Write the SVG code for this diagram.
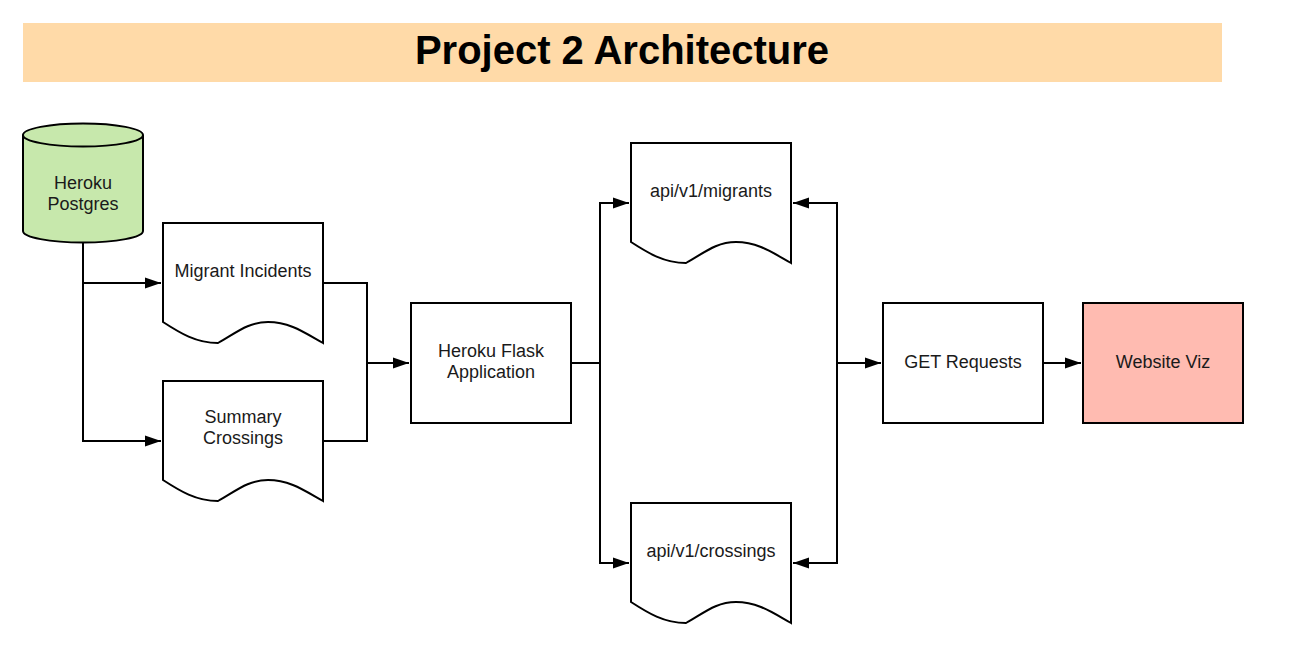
<svg xmlns="http://www.w3.org/2000/svg" width="1316" height="662" viewBox="0 0 1316 662">
<defs>
<style>
.shape{stroke:#000;stroke-width:2;}
.lbl{font-family:"Liberation Sans",Arial,sans-serif;font-size:18px;fill:#1a1a1a;text-anchor:middle;}
.conn{fill:none;stroke:#000;stroke-width:2;}
</style>
<marker id="arr" markerWidth="16" markerHeight="12" refX="16" refY="6" orient="auto" markerUnits="userSpaceOnUse">
<path d="M0,0.5 L16,6 L0,11.5 Z" fill="#000"/>
</marker>
</defs>
<rect width="1316" height="662" fill="#fff"/>
<g id="title">
<rect x="23" y="23" width="1199" height="59" fill="#FFDAA8"/>
<text x="622" y="64" font-family="'Liberation Sans',Arial,sans-serif" font-size="40" font-weight="bold" text-anchor="middle" fill="#000">Project 2 Architecture</text>
</g>
<g id="connectors">
<path class="conn" d="M83,243 V441 H161" marker-end="url(#arr)"/>
<path class="conn" d="M83,283 H161" marker-end="url(#arr)"/>
<path class="conn" d="M323,283 H367 V363"/>
<path class="conn" d="M323,441 H367 V363 H409" marker-end="url(#arr)"/>
<path class="conn" d="M571,363 H600 V203 H629" marker-end="url(#arr)"/>
<path class="conn" d="M600,363 V563 H629" marker-end="url(#arr)"/>
<path class="conn" d="M837,363 V203 H793" marker-end="url(#arr)"/>
<path class="conn" d="M837,363 V563 H793" marker-end="url(#arr)"/>
<path class="conn" d="M837,363 H881" marker-end="url(#arr)"/>
<path class="conn" d="M1043,363 H1081" marker-end="url(#arr)"/>
</g>
<g id="heroku-postgres">
<path class="shape" fill="#C7E8AC" d="M23,135 V231 A60,11.5 0 0 0 143,231 V135 A60,11.5 0 0 0 23,135 Z"/>
<path class="shape" fill="none" d="M23,135 A60,11.5 0 0 0 143,135"/>
<text class="lbl" x="83" y="189">Heroku</text>
<text class="lbl" x="83" y="210">Postgres</text>
</g>
<g id="migrant-incidents">
<path class="shape" fill="#fff" d="M163,223 H323 V343 C305,333 290,322 268,322 C248,322 236,333 218,343 C196,343 180,333 163,322 Z"/>
<text class="lbl" x="243" y="277">Migrant Incidents</text>
</g>
<g id="summary-crossings">
<path class="shape" fill="#fff" d="M163,381 H323 V501 C305,491 290,480 268,480 C248,480 236,491 218,501 C196,501 180,491 163,480 Z"/>
<text class="lbl" x="243" y="423">Summary</text>
<text class="lbl" x="243" y="444">Crossings</text>
</g>
<g id="heroku-flask">
<rect class="shape" fill="#fff" x="411" y="303" width="160" height="120"/>
<text class="lbl" x="491" y="357">Heroku Flask</text>
<text class="lbl" x="491" y="378">Application</text>
</g>
<g id="api-migrants">
<path class="shape" fill="#fff" d="M631,143 H791 V263 C773,253 758,242 736,242 C716,242 704,253 686,263 C664,263 648,253 631,242 Z"/>
<text class="lbl" x="711" y="197">api/v1/migrants</text>
</g>
<g id="api-crossings">
<path class="shape" fill="#fff" d="M631,503 H791 V623 C773,613 758,602 736,602 C716,602 704,613 686,623 C664,623 648,613 631,602 Z"/>
<text class="lbl" x="711" y="557">api/v1/crossings</text>
</g>
<g id="get-requests">
<rect class="shape" fill="#fff" x="883" y="303" width="160" height="120"/>
<text class="lbl" x="963" y="368">GET Requests</text>
</g>
<g id="website-viz">
<rect class="shape" fill="#FFBBB1" x="1083" y="303" width="160" height="120"/>
<text class="lbl" x="1163" y="368">Website Viz</text>
</g>
</svg>
